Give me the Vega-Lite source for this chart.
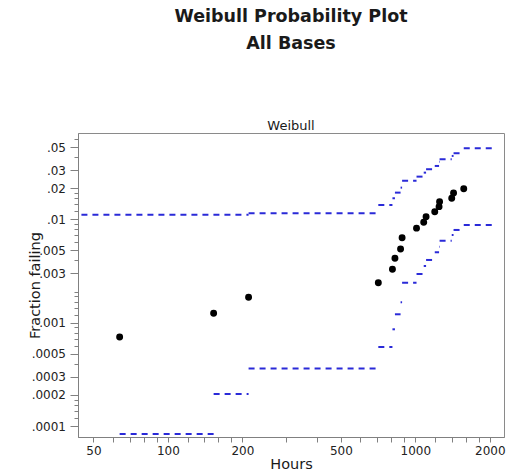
{
  "$schema": "https://vega.github.io/schema/vega-lite/v6.json",
  "width": 426,
  "height": 304,
  "autosize": {"type": "none"},
  "padding": {"left": 78, "top": 133, "right": 26, "bottom": 38},
  "background": "white",
  "config": {
    "view": {"stroke": "#8a8a8a", "strokeWidth": 1},
    "font": "DejaVu Sans"
  },
  "title": {
    "text": ["Weibull Probability Plot", "All Bases"],
    "subtitle": "Weibull",
    "anchor": "middle",
    "frame": "group",
    "font": "DejaVu Sans",
    "fontSize": 17.5,
    "fontWeight": "bold",
    "lineHeight": 27,
    "color": "#1a1a1a",
    "subtitleFont": "DejaVu Sans",
    "subtitleFontSize": 13,
    "subtitleColor": "#1a1a1a",
    "subtitlePadding": 68,
    "offset": 0
  },
  "datasets": {
    "points": [
      {"hours": 63.8, "fraction": 0.000727},
      {"hours": 153, "fraction": 0.001233},
      {"hours": 211.8, "fraction": 0.001762},
      {"hours": 708.5, "fraction": 0.002438},
      {"hours": 808, "fraction": 0.00329},
      {"hours": 827, "fraction": 0.0042},
      {"hours": 871.5, "fraction": 0.00517},
      {"hours": 884, "fraction": 0.00665},
      {"hours": 1011, "fraction": 0.00822},
      {"hours": 1081, "fraction": 0.00938},
      {"hours": 1105, "fraction": 0.01062},
      {"hours": 1198, "fraction": 0.01185},
      {"hours": 1247, "fraction": 0.01327},
      {"hours": 1253, "fraction": 0.01479},
      {"hours": 1403, "fraction": 0.01603},
      {"hours": 1427, "fraction": 0.01797},
      {"hours": 1569, "fraction": 0.01977}
    ],
    "bands": [
      {"bound": "upper", "from": 44.7, "to": 211.8, "fraction": 0.0111},
      {"bound": "upper", "from": 211.8, "to": 708.5, "fraction": 0.01146},
      {"bound": "upper", "from": 708.5, "to": 808, "fraction": 0.01378},
      {"bound": "upper", "from": 808, "to": 827, "fraction": 0.016},
      {"bound": "upper", "from": 827, "to": 871.5, "fraction": 0.01814},
      {"bound": "upper", "from": 871.5, "to": 884, "fraction": 0.02027},
      {"bound": "upper", "from": 884, "to": 1011, "fraction": 0.02369},
      {"bound": "upper", "from": 1011, "to": 1081, "fraction": 0.02591},
      {"bound": "upper", "from": 1081, "to": 1105, "fraction": 0.02832},
      {"bound": "upper", "from": 1105, "to": 1198, "fraction": 0.03055},
      {"bound": "upper", "from": 1198, "to": 1247, "fraction": 0.03287},
      {"bound": "upper", "from": 1247, "to": 1253, "fraction": 0.03619},
      {"bound": "upper", "from": 1253, "to": 1403, "fraction": 0.03818},
      {"bound": "upper", "from": 1403, "to": 1427, "fraction": 0.04109},
      {"bound": "upper", "from": 1427, "to": 1569, "fraction": 0.04364},
      {"bound": "upper", "from": 1569, "to": 2065, "fraction": 0.04878},
      {"bound": "lower", "from": 63.8, "to": 153, "fraction": 0.0000837},
      {"bound": "lower", "from": 153, "to": 211.8, "fraction": 0.000204},
      {"bound": "lower", "from": 211.8, "to": 708.5, "fraction": 0.00036},
      {"bound": "lower", "from": 708.5, "to": 808, "fraction": 0.000582},
      {"bound": "lower", "from": 808, "to": 827, "fraction": 0.000863},
      {"bound": "lower", "from": 827, "to": 871.5, "fraction": 0.001206},
      {"bound": "lower", "from": 871.5, "to": 884, "fraction": 0.001576},
      {"bound": "lower", "from": 884, "to": 1011, "fraction": 0.002439},
      {"bound": "lower", "from": 1011, "to": 1081, "fraction": 0.002961},
      {"bound": "lower", "from": 1081, "to": 1105, "fraction": 0.003539},
      {"bound": "lower", "from": 1105, "to": 1198, "fraction": 0.004046},
      {"bound": "lower", "from": 1198, "to": 1247, "fraction": 0.004803},
      {"bound": "lower", "from": 1247, "to": 1253, "fraction": 0.00544},
      {"bound": "lower", "from": 1253, "to": 1403, "fraction": 0.006219},
      {"bound": "lower", "from": 1403, "to": 1427, "fraction": 0.00706},
      {"bound": "lower", "from": 1427, "to": 1569, "fraction": 0.007897},
      {"bound": "lower", "from": 1569, "to": 2065, "fraction": 0.00883}
    ]
  },
  "layer": [
    {
      "data": {"name": "bands"},
      "mark": {"type": "rule", "color": "#2a2ad8", "strokeWidth": 2, "strokeDash": [6, 5]},
      "encoding": {
        "x": {
          "field": "from",
          "type": "quantitative",
          "scale": {"type": "log", "domain": [43.3, 2282], "nice": false},
          "axis": {
            "title": "Hours",
            "values": [50, 60, 70, 80, 90, 100, 120, 140, 160, 180, 200, 300, 400, 500, 600, 700, 800, 900, 1000, 1200, 1400, 1600, 1800, 2000],
            "labelExpr": "indexof([50, 100, 200, 500, 1000, 2000], datum.value) >= 0 ? format(datum.value, 'd') : ''",
            "labelOverlap": false,
            "labelFlush": false,
            "labelFont": "DejaVu Sans",
            "labelFontSize": 12,
            "labelColor": "#222222",
            "labelPadding": 3,
            "tickSize": 5,
            "tickColor": "#808080",
            "domainColor": "#808080",
            "grid": false,
            "titleFont": "DejaVu Sans",
            "titleFontSize": 14.5,
            "titleFontWeight": "normal",
            "titleColor": "#1a1a1a",
            "titleX": 213,
            "titleY": 31,
            "titleBaseline": "alphabetic",
            "titleAlign": "center"
          }
        },
        "x2": {"field": "to"},
        "y": {
          "field": "fraction",
          "type": "quantitative",
          "scale": {"type": "log", "domain": [0.0000783, 0.0685], "nice": false},
          "axis": {
            "title": "Fraction failing",
            "orient": "left",
            "values": [0.0001, 0.0002, 0.0003, 0.0005, 0.001, 0.003, 0.005, 0.01, 0.02, 0.03, 0.05],
            "labelExpr": "replace(format(datum.value, '~g'), '0.', '.')",
            "labelOverlap": false,
            "labelFlush": false,
            "labelFont": "DejaVu Sans",
            "labelFontSize": 12,
            "labelColor": "#222222",
            "labelPadding": 4.5,
            "tickSize": 8,
            "tickColor": "#808080",
            "domainColor": "#808080",
            "grid": false,
            "titleFont": "DejaVu Sans",
            "titleFontSize": 14.5,
            "titleFontWeight": "normal",
            "titleColor": "#1a1a1a",
            "titleAngle": -90,
            "titleX": -39,
            "titleY": 152,
            "titleBaseline": "alphabetic",
            "titleAlign": "center"
          }
        }
      }
    },
    {
      "data": {"name": "points"},
      "mark": {"type": "circle", "color": "black", "size": 48, "opacity": 1},
      "encoding": {
        "x": {"field": "hours", "type": "quantitative", "scale": {"type": "log", "domain": [43.3, 2282], "nice": false}},
        "y": {
          "field": "fraction",
          "type": "quantitative",
          "scale": {"type": "log", "domain": [0.0000783, 0.0685], "nice": false},
          "axis": {
            "title": null,
            "orient": "left",
            "values": [0.00012, 0.00014, 0.00016, 0.00018, 0.0004, 0.0006, 0.0007, 0.0008, 0.0009, 0.0012, 0.0014, 0.0016, 0.0018, 0.002, 0.004, 0.006, 0.007, 0.008, 0.009, 0.012, 0.014, 0.016, 0.018, 0.04, 0.06],
            "labels": false,
            "domain": false,
            "grid": false,
            "tickSize": 4,
            "tickColor": "#808080"
          }
        }
      }
    }
  ],
  "resolve": {"axis": {"y": "independent"}}
}
